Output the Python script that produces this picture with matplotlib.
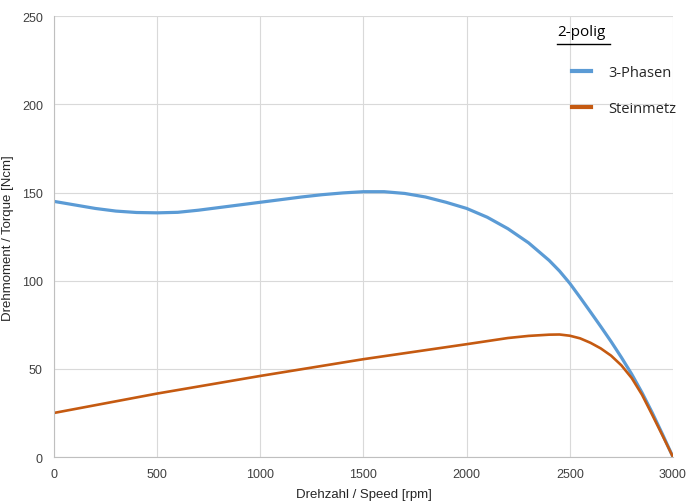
import numpy as np
import matplotlib.pyplot as plt
from matplotlib.lines import Line2D

# speed [rpm] and torque [Ncm]
speed_3ph = [0, 100, 200, 300, 400, 500, 600, 700, 800, 900, 1000, 1100, 1200, 1300,
             1400, 1500, 1600, 1700, 1800, 1900, 2000, 2100, 2200, 2300, 2400, 2450,
             2500, 2550, 2600, 2650, 2700, 2750, 2800, 2850, 2900, 2950, 3000]
torque_3ph = [145, 143, 141, 139.5, 138.7, 138.5, 138.8, 140, 141.5, 143, 144.5, 146,
              147.5, 148.8, 149.8, 150.5, 150.5, 149.5, 147.5, 144.5, 141, 136,
              129.5, 121.5, 111.5, 105.5, 98.5, 90.5, 82.3, 74, 65.5, 56.5, 47,
              36.5, 25, 12.7, 0]

speed_stm = [0, 500, 1000, 1500, 2000, 2200, 2300, 2400, 2450, 2500, 2550, 2600, 2650,
             2700, 2750, 2800, 2850, 2900, 2950, 3000]
torque_stm = [25, 36, 46, 55.5, 64, 67.5, 68.7, 69.4, 69.5, 68.8, 67.3, 64.8, 61.6,
              57.5, 52, 44.8, 35.3, 23.8, 12, 0]

blue = '#5B9BD5'
orange = '#C55A11'

fig = plt.figure(figsize=(6.87, 5.02), dpi=100)
ax = fig.add_axes([0.0786, 0.0876, 0.901, 0.878])

ax.plot(speed_3ph, torque_3ph, color=blue, linewidth=2.3, solid_capstyle='round',
        solid_joinstyle='round')
ax.plot(speed_stm, torque_stm, color=orange, linewidth=1.9, solid_capstyle='round',
        solid_joinstyle='round')

ax.set_xlim(0, 3000)
ax.set_ylim(0, 250)
ax.set_xticks(range(0, 3001, 500))
ax.set_yticks(range(0, 251, 50))
ax.grid(True, color='#D9D9D9', linewidth=0.8)
ax.set_axisbelow(True)
ax.tick_params(length=0, labelsize=9, colors='#404040', pad=8)
for lbl in ax.get_xticklabels() + ax.get_yticklabels():
    lbl.set_fontfamily('Liberation Sans')
for s in ['top', 'right']:
    ax.spines[s].set_visible(False)
for s in ['left', 'bottom']:
    ax.spines[s].set_color('#BFBFBF')
    ax.spines[s].set_linewidth(0.8)

ax.set_xlabel('Drehzahl / Speed [rpm]', fontsize=9.5, family='Liberation Sans',
              color='#262626', labelpad=6)
ax.set_ylabel('Drehmoment / Torque [Ncm]', fontsize=9.5, family='Liberation Sans',
              color='#262626', labelpad=6)

# legend with underlined title
handles = [Line2D([], [], color=blue, linewidth=3),
           Line2D([], [], color=orange, linewidth=3)]
leg = ax.legend(handles, ['3-Phasen', 'Steinmetz'], loc='upper left',
                bbox_to_anchor=(0.815, 0.92), frameon=False, handlelength=1.3,
                handletextpad=1.2, labelspacing=1.45,
                prop={'family': 'Open Sans', 'size': 10.5})
for t in leg.get_texts():
    t.set_color('#262626')
ax.text(0.813, 0.965, '2-polig', transform=ax.transAxes, fontsize=11,
        family='Open Sans', color='#000000', va='center', ha='left')
ax.add_line(Line2D([0.813, 0.898], [0.937, 0.937], transform=ax.transAxes,
                   color='black', linewidth=1.0))

fig.savefig('out.png', dpi=100)
